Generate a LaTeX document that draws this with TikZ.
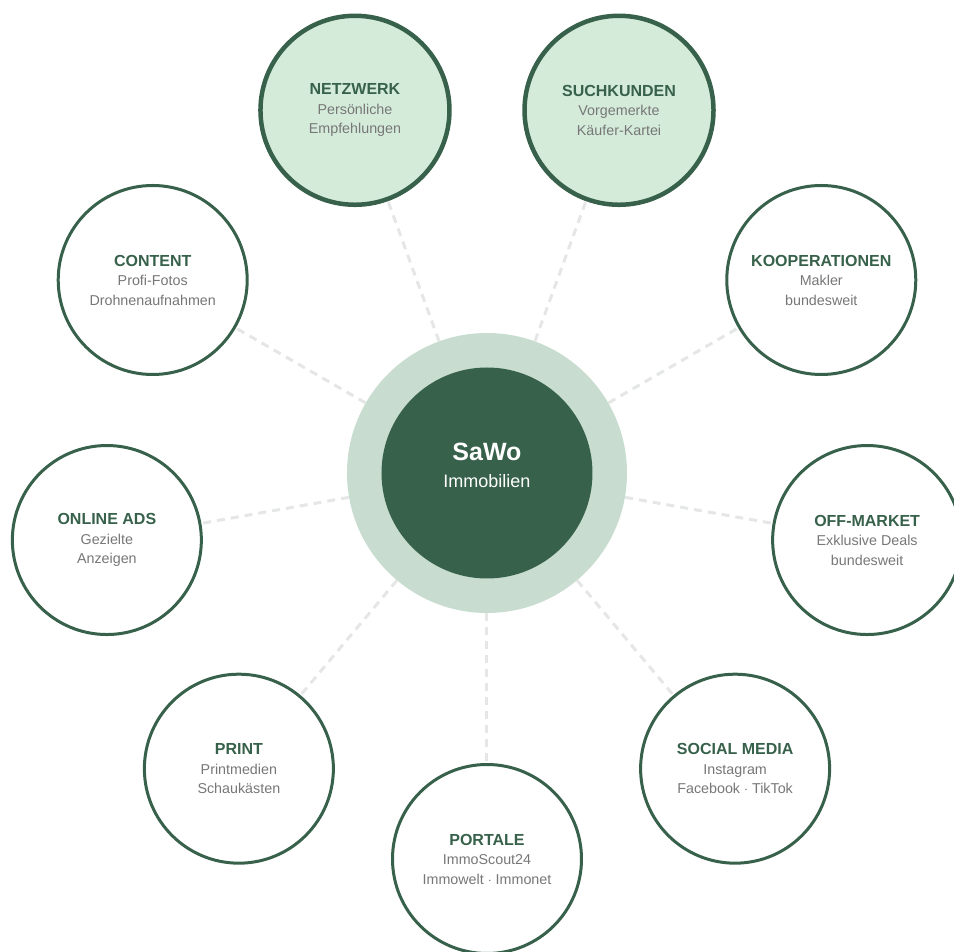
\documentclass[tikz,border=0pt]{standalone}
\usepackage{fontspec}
\setmainfont{Liberation Sans}
\usepackage{tikz}
\usetikzlibrary{positioning,shapes}

\definecolor{sawogreen}{HTML}{37614A}
\definecolor{saworing}{HTML}{C8DDCF}
\definecolor{sawolight}{HTML}{D4EBDA}
\definecolor{sawogray}{HTML}{777777}
\definecolor{sawodash}{HTML}{E4E7E5}

\newcommand{\sattitle}[1]{{\bfseries\color{sawogreen}\fontsize{16}{19.5}\selectfont #1}}

\begin{document}
\begin{tikzpicture}[x=1pt,y=1pt,
		ring/.style={circle,fill=saworing,minimum size=280pt,inner sep=0pt},
		core/.style={circle,fill=sawogreen,minimum size=211pt,inner sep=0pt},
		coretext/.style={align=center,text=white,font=\fontsize{18}{27}\selectfont},
		sat/.style={circle,draw=sawogreen,line width=3pt,fill=white,minimum size=189pt,inner sep=0pt,
			align=center,text=sawogray,font=\fontsize{14.3}{19.5}\selectfont},
		topsat/.style={sat,fill=sawolight,line width=4.5pt},
		link/.style={draw=sawodash,line width=3pt,dash pattern=on 8pt off 6pt}]
		\useasboundingbox (-487,-479) rectangle (467,473);
		
		\node[ring] (ring) at (0,0) {};
		\node[core] (sawo) at (0,0) {};
		\node[coretext] (sawotext) at (0,8) {{\bfseries\fontsize{25}{27}\selectfont SaWo}\\Immobilien};
		
		\node[topsat] (netzwerk) at (110:386) {\sattitle{NETZWERK}\\Persönliche\\Empfehlungen};
		\node[topsat] (suchkunden) at (70:386) {\sattitle{SUCHKUNDEN}\\Vorgemerkte\\Käufer-Kartei};
		\node[sat] (content) at (150:386) {\sattitle{CONTENT}\\Profi-Fotos\\Drohnenaufnahmen};
		\node[sat] (kooperationen) at (30:386) {\sattitle{KOOPERATIONEN}\\Makler\\bundesweit};
		\node[sat] (onlineads) at (190:386) {\sattitle{ONLINE ADS}\\Gezielte\\Anzeigen};
		\node[sat] (offmarket) at (350:386) {\sattitle{OFF-MARKET}\\Exklusive Deals\\bundesweit};
		\node[sat] (print) at (230:386) {\sattitle{PRINT}\\Printmedien\\Schaukästen};
		\node[sat] (socialmedia) at (310:386) {\sattitle{SOCIAL MEDIA}\\Instagram\\Facebook $\cdot$ TikTok};
		\node[sat] (portale) at (270:386) {\sattitle{PORTALE}\\ImmoScout24\\Immowelt $\cdot$ Immonet};
		
		\draw[link] (ring) -- (netzwerk);
		\draw[link] (ring) -- (suchkunden);
		\draw[link] (ring) -- (content);
		\draw[link] (ring) -- (kooperationen);
		\draw[link] (ring) -- (onlineads);
		\draw[link] (ring) -- (offmarket);
		\draw[link] (ring) -- (print);
		\draw[link] (ring) -- (socialmedia);
		\draw[link] (ring) -- (portale);
\end{tikzpicture}
\end{document}
